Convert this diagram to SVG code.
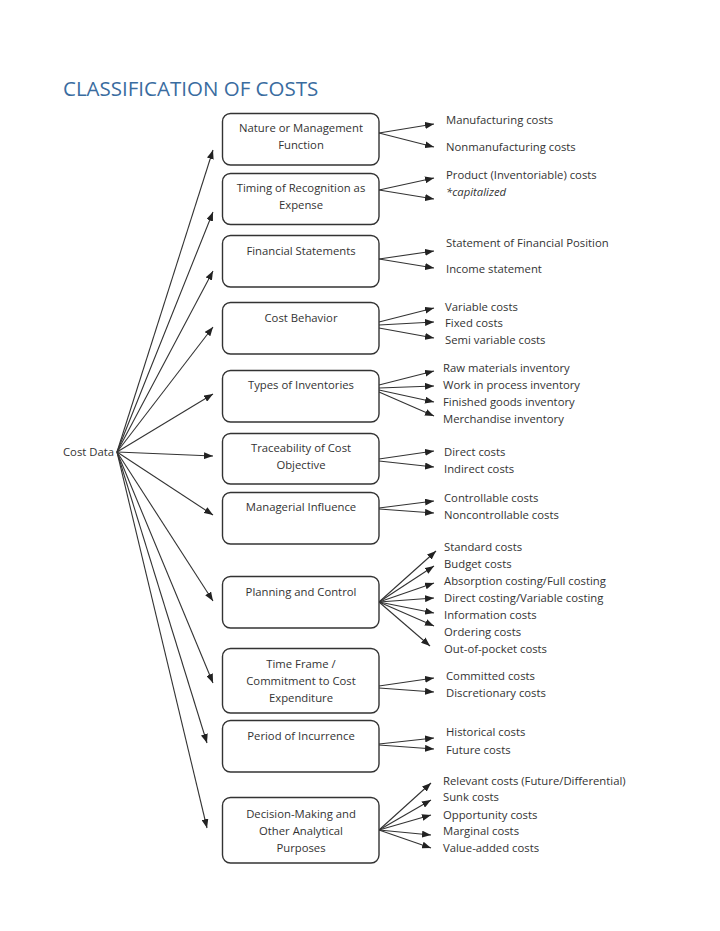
<svg xmlns="http://www.w3.org/2000/svg" width="720" height="931" viewBox="0 0 720 931">
<defs>
<marker id="ah" markerUnits="userSpaceOnUse" markerWidth="9" markerHeight="7" refX="9" refY="3.5" orient="auto">
<path d="M0,0 L9,3.5 L0,7 Z" fill="#222"/>
</marker>
<style>
.box{fill:#fff;stroke:#333;stroke-width:1.4}
.t{font-family:"Open Sans","Liberation Sans",sans-serif;font-size:11.3px;fill:#333}
.c{text-anchor:middle}
.i{font-style:italic}
.ttl{font-family:"Open Sans","Liberation Sans",sans-serif;font-size:20.5px;fill:#3a6c9f}
#connectors line{stroke:#333;stroke-width:1.1;marker-end:url(#ah)}
</style>
</defs>
<rect width="720" height="931" fill="#fff"/>
<text class="ttl" x="63" y="96">CLASSIFICATION OF COSTS</text>
<g id="root"><text class="t" x="63" y="456">Cost Data</text></g>
<g id="connectors">
<line x1="117" y1="452" x2="213" y2="150"/>
<line x1="117" y1="452" x2="213" y2="212"/>
<line x1="117" y1="452" x2="213" y2="271"/>
<line x1="117" y1="452" x2="213" y2="327"/>
<line x1="117" y1="452" x2="213" y2="394"/>
<line x1="117" y1="452" x2="213" y2="456"/>
<line x1="117" y1="452" x2="213" y2="515"/>
<line x1="117" y1="452" x2="213" y2="601"/>
<line x1="117" y1="452" x2="213" y2="683"/>
<line x1="117" y1="452" x2="207" y2="743"/>
<line x1="117" y1="452" x2="207" y2="828"/>
<line x1="379" y1="133" x2="434" y2="124"/>
<line x1="379" y1="133" x2="434" y2="147"/>
<line x1="379" y1="190" x2="434" y2="178"/>
<line x1="379" y1="190" x2="434" y2="199"/>
<line x1="379" y1="259" x2="434" y2="251"/>
<line x1="379" y1="259" x2="434" y2="268"/>
<line x1="379" y1="322" x2="434" y2="308"/>
<line x1="379" y1="325" x2="434" y2="322"/>
<line x1="379" y1="328" x2="434" y2="338"/>
<line x1="379" y1="385" x2="434" y2="371"/>
<line x1="379" y1="388" x2="434" y2="386"/>
<line x1="379" y1="390" x2="434" y2="402"/>
<line x1="379" y1="392" x2="434" y2="416"/>
<line x1="379" y1="459" x2="434" y2="451"/>
<line x1="379" y1="461" x2="434" y2="467"/>
<line x1="379" y1="508" x2="434" y2="501"/>
<line x1="379" y1="509" x2="434" y2="513"/>
<line x1="379" y1="602" x2="436" y2="551"/>
<line x1="379" y1="602" x2="434" y2="566"/>
<line x1="379" y1="602" x2="434" y2="583"/>
<line x1="379" y1="602" x2="434" y2="598"/>
<line x1="379" y1="602" x2="434" y2="613"/>
<line x1="379" y1="602" x2="434" y2="626"/>
<line x1="379" y1="602" x2="430" y2="646"/>
<line x1="379" y1="686" x2="434" y2="678"/>
<line x1="379" y1="688" x2="434" y2="692"/>
<line x1="379" y1="744" x2="434" y2="738"/>
<line x1="379" y1="745" x2="434" y2="749"/>
<line x1="379" y1="830" x2="431" y2="783"/>
<line x1="379" y1="830" x2="431" y2="800"/>
<line x1="379" y1="830" x2="431" y2="815"/>
<line x1="379" y1="830" x2="431" y2="835"/>
<line x1="379" y1="830" x2="431" y2="848"/>
</g>
<g id="n1"><rect class="box" x="222.5" y="113.5" width="156.5" height="51.5" rx="8"/>
<text class="t c" x="301" y="132">Nature or Management</text><text class="t c" x="301" y="149">Function</text>
<text class="t" x="446" y="124">Manufacturing costs</text><text class="t" x="446" y="151">Nonmanufacturing costs</text></g>
<g id="n2"><rect class="box" x="222.5" y="173.5" width="156.5" height="51" rx="8"/>
<text class="t c" x="301" y="192">Timing of Recognition as</text><text class="t c" x="301" y="209">Expense</text>
<text class="t" x="446" y="179">Product (Inventoriable) costs</text><text class="t i" x="446" y="196">*capitalized</text></g>
<g id="n3"><rect class="box" x="222.5" y="235.5" width="156.5" height="51.5" rx="8"/>
<text class="t c" x="301" y="255">Financial Statements</text>
<text class="t" x="446" y="247">Statement of Financial Position</text><text class="t" x="446" y="273">Income statement</text></g>
<g id="n4"><rect class="box" x="222.5" y="302.5" width="156.5" height="51.5" rx="8"/>
<text class="t c" x="301" y="322">Cost Behavior</text>
<text class="t" x="445" y="311">Variable costs</text><text class="t" x="445" y="327">Fixed costs</text><text class="t" x="445" y="344">Semi variable costs</text></g>
<g id="n5"><rect class="box" x="222.5" y="370.5" width="156.5" height="51.5" rx="8"/>
<text class="t c" x="301" y="389">Types of Inventories</text>
<text class="t" x="443" y="372">Raw materials inventory</text><text class="t" x="443" y="389">Work in process inventory</text><text class="t" x="443" y="406">Finished goods inventory</text><text class="t" x="443" y="423">Merchandise inventory</text></g>
<g id="n6"><rect class="box" x="222.5" y="433.5" width="156.5" height="50.5" rx="8"/>
<text class="t c" x="301" y="452">Traceability of Cost</text><text class="t c" x="301" y="469">Objective</text>
<text class="t" x="444" y="456">Direct costs</text><text class="t" x="444" y="473">Indirect costs</text></g>
<g id="n7"><rect class="box" x="222.5" y="492.5" width="156.5" height="51.5" rx="8"/>
<text class="t c" x="301" y="511">Managerial Influence</text>
<text class="t" x="444" y="502">Controllable costs</text><text class="t" x="444" y="519">Noncontrollable costs</text></g>
<g id="n8"><rect class="box" x="222.5" y="576.5" width="156.5" height="51.5" rx="8"/>
<text class="t c" x="301" y="596">Planning and Control</text>
<text class="t" x="444" y="551">Standard costs</text><text class="t" x="444" y="568">Budget costs</text><text class="t" x="444" y="585">Absorption costing/Full costing</text><text class="t" x="444" y="602">Direct costing/Variable costing</text><text class="t" x="444" y="619">Information costs</text><text class="t" x="444" y="636">Ordering costs</text><text class="t" x="444" y="653">Out-of-pocket costs</text></g>
<g id="n9"><rect class="box" x="222.5" y="648.5" width="156.5" height="64.5" rx="8"/>
<text class="t c" x="301" y="668">Time Frame /</text><text class="t c" x="301" y="685">Commitment to Cost</text><text class="t c" x="301" y="702">Expenditure</text>
<text class="t" x="446" y="680">Committed costs</text><text class="t" x="446" y="697">Discretionary costs</text></g>
<g id="n10"><rect class="box" x="222.5" y="720.5" width="156.5" height="51.5" rx="8"/>
<text class="t c" x="301" y="740">Period of Incurrence</text>
<text class="t" x="446" y="736">Historical costs</text><text class="t" x="446" y="754">Future costs</text></g>
<g id="n11"><rect class="box" x="222.5" y="797.5" width="156.5" height="65.5" rx="8"/>
<text class="t c" x="301" y="818">Decision-Making and</text><text class="t c" x="301" y="835">Other Analytical</text><text class="t c" x="301" y="852">Purposes</text>
<text class="t" x="443" y="785">Relevant costs (Future/Differential)</text><text class="t" x="443" y="801">Sunk costs</text><text class="t" x="443" y="819">Opportunity costs</text><text class="t" x="443" y="835">Marginal costs</text><text class="t" x="443" y="852">Value-added costs</text></g>
</svg>
